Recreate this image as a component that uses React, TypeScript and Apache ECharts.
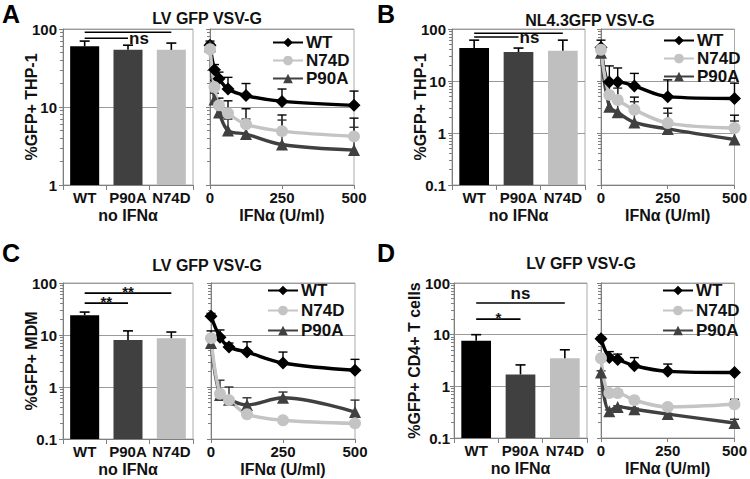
import React, { useEffect, useRef } from 'react';
import * as echarts from 'echarts';

const FONT = '"Liberation Sans", Arial, Helvetica, sans-serif';

// ---------- data ----------
const barCategories = ['WT', 'P90A', 'N74D'];
const legendNames = ['WT', 'N74D', 'P90A'];
const titles = ['LV GFP VSV-G', 'NL4.3GFP VSV-G', 'LV GFP VSV-G', 'LV GFP VSV-G'];
const letters = ['A', 'B', 'C', 'D'];
const yNames = ['%GFP+ THP-1', '%GFP+ THP-1', '%GFP+ MDM', '%GFP+ CD4+ T cells'];
const yMins = [1, 0.1, 0.1, 0.1];
const xTicks = [0, 250, 500];

const doseA = [0, 15.6, 31.25, 62.5, 125, 250, 500];
const doseBCD = [0, 31.25, 62.5, 125, 250, 500];

// Panel A
const barA = [60, 54, 54];
const barErrA = [70, 62, 66];
const wtA = [62, 30, 23, 17, 14, 11.8, 10.5];
const wtErrA = [70, 35, 28, 24, 20, 17, 16];
const n74dA = [55, 18, 10.5, 8.3, 6, 4.9, 4.2];
const n74dErrA = [62, 22, 13, 12, 9.5, 7.9, 7.2];
const p90aA = [60, 12.5, 8.5, 5.0, 4.5, 3.3, 2.8];
const p90aErrA = [66, 15, 10, 7, 7, 6.8, 5.5];
const sigA: [number, number, number, string][] = [[0, 2, 91, ''], [0, 1, 76, 'ns']];

// Panel B
const barB = [43, 36, 38];
const barErrB = [61, 43, 61];
const wtB = [44, 9.6, 9.6, 8, 5, 4.6];
const wtErrB = [61, 19.5, 17.8, 14, 10.5, 9.1];
const n74dB = [40, 5.4, 4.3, 2.8, 1.55, 1.25];
const n74dErrB = [45, 9, 9.1, 4.9, 3.0, 2.2];
const p90aB = [35, 3.2, 2.5, 1.6, 1.2, 0.75];
const p90aErrB = [40, 6, 7.3, 4.0, 2.4, 1.7];
const sigB: [number, number, number, string][] = [[0, 2, 83, ''], [0, 1, 70, 'ns']];

// Panel C
const barC = [24, 8, 8.7];
const barErrC = [27.6, 12, 11.4];
const wtC = [23, 9.1, 5.9, 4.7, 2.9, 2.1];
const wtErrC = [26, 12.5, 7, 7.4, 4.7, 3.4];
const n74dC = [8.7, 0.74, 0.56, 0.3, 0.23, 0.2];
const n74dErrC = [12, 0.8, 0.6, 0.35, 0.25, 0.22];
const p90aC = [7, 0.7, 0.57, 0.45, 0.62, 0.33];
const p90aErrC = [8, 1.35, 1.0, 0.62, 0.8, 0.56];
const sigC: [number, number, number, string][] = [[0, 2, 64, '**'], [0, 1, 41, '**']];

// Panel D
const barD = [7.6, 1.7, 3.5];
const barErrD = [10, 2.6, 5.1];
const wtD = [8.3, 3.6, 3.3, 2.5, 1.95, 1.85];
const wtErrD = [9, 4.7, 4.2, 3.6, 2.7, 1.9];
const n74dD = [3.5, 0.74, 0.74, 0.54, 0.4, 0.45];
const n74dErrD = [3.8, 0.8, 0.85, 0.6, 0.42, 0.56];
const p90aD = [1.85, 0.33, 0.4, 0.36, 0.29, 0.195];
const p90aErrD = [2, 0.35, 0.42, 0.38, 0.3, 0.23];
const sigD: [number, number, number, string][] = [[0, 2, 41, 'ns'], [0, 1, 20, '*']];

const panelData = [
  { dose: doseA, bars: barA, barErr: barErrA, wt: wtA, wtErr: wtErrA, n74d: n74dA, n74dErr: n74dErrA, p90a: p90aA, p90aErr: p90aErrA, sig: sigA },
  { dose: doseBCD, bars: barB, barErr: barErrB, wt: wtB, wtErr: wtErrB, n74d: n74dB, n74dErr: n74dErrB, p90a: p90aB, p90aErr: p90aErrB, sig: sigB },
  { dose: doseBCD, bars: barC, barErr: barErrC, wt: wtC, wtErr: wtErrC, n74d: n74dC, n74dErr: n74dErrC, p90a: p90aC, p90aErr: p90aErrC, sig: sigC },
  { dose: doseBCD, bars: barD, barErr: barErrD, wt: wtD, wtErr: wtErrD, n74d: n74dD, n74dErr: n74dErrD, p90a: p90aD, p90aErr: p90aErrD, sig: sigD },
];

// ---------- layout / style ----------
const layouts = [
  { left: [63, 29, 130, 156], right: [210, 29, 144, 156], legend: [272, 34], legendGap: 1, title: [207, 18], letter: [2, 14], sigMode: 'side', nameGap: 24, labelMargin: 6 },
  { left: [452, 29, 133, 156], right: [601, 29, 143, 156], legend: [663, 32], legendGap: 1, title: [590, 20], letter: [377, 14], sigMode: 'side', nameGap: 24, labelMargin: 6 },
  { left: [63, 283, 130, 156], right: [211, 283, 144, 156], legend: [267, 282], legendGap: 3, title: [207, 265], letter: [2, 253], sigMode: 'above', nameGap: 24, labelMargin: 6 },
  { left: [454, 283, 133, 155], right: [601, 283, 142, 155], legend: [662, 282], legendGap: 3, title: [581, 263], letter: [377, 253], sigMode: 'above', nameGap: 32, labelMargin: 4 },
];

const barColors = ['#000000', '#404040', '#bfbfbf'];
const seriesStyle: Record<string, { color: string; symbol: string; size: number }> = {
  WT: { color: '#000000', symbol: 'diamond', size: 13 },
  N74D: { color: '#c4c4c4', symbol: 'circle', size: 12 },
  P90A: { color: '#404040', symbol: 'triangle', size: 12 },
};
const AXIS_COLOR = '#7f7f7f';
const GRID_LINE = '#9a9a9a';
const TEXT = '#111111';

function buildOption() {
  const grid: any[] = [];
  const xAxis: any[] = [];
  const yAxis: any[] = [];
  const series: any[] = [];
  const legend: any[] = [];
  const graphic: any[] = [];

  panelData.forEach((pd, p) => {
    const lay = layouts[p];
    const gl = 2 * p;
    const gr = 2 * p + 1;
    const yMin = yMins[p];

    grid.push({ left: lay.left[0], top: lay.left[1], width: lay.left[2], height: lay.left[3], show: true, borderColor: '#ababab', borderWidth: 1, containLabel: false });
    grid.push({ left: lay.right[0], top: lay.right[1], width: lay.right[2], height: lay.right[3], show: true, borderColor: '#ababab', borderWidth: 1, containLabel: false });

    const labelStyle = { fontFamily: FONT, fontSize: 15, fontWeight: 'bold', color: TEXT };
    const nameStyle = { fontFamily: FONT, fontSize: 16, fontWeight: 'bold', color: TEXT };

    xAxis.push({
      type: 'category', gridIndex: gl, data: barCategories,
      axisLine: { show: true, lineStyle: { color: AXIS_COLOR } },
      axisTick: { show: true, length: 5, lineStyle: { color: AXIS_COLOR } },
      axisLabel: { ...labelStyle, margin: 5, interval: 0 },
      name: 'no IFNα', nameLocation: 'middle', nameGap: 22, nameMoveOverlap: false, nameTextStyle: nameStyle,
      splitLine: { show: false },
    });
    xAxis.push({
      type: 'value', gridIndex: gr, min: xTicks[0], max: xTicks[xTicks.length - 1], interval: xTicks[1] - xTicks[0],
      axisLine: { show: true, onZero: false, lineStyle: { color: AXIS_COLOR } },
      axisTick: { show: true, length: 4, lineStyle: { color: AXIS_COLOR } },
      axisLabel: { ...labelStyle, margin: 5 },
      name: 'IFNα (U/ml)', nameLocation: 'middle', nameGap: 22, nameMoveOverlap: false, nameTextStyle: nameStyle,
      splitLine: { show: false },
    });

    const yBase = {
      type: 'log', logBase: 10, min: yMin, max: 100,
      axisLine: { show: true, lineStyle: { color: AXIS_COLOR } },
      axisTick: { show: true, length: 4, lineStyle: { color: AXIS_COLOR } },
      minorTick: { show: true, splitNumber: 9, length: 3, lineStyle: { color: AXIS_COLOR } },
      splitLine: { show: true, lineStyle: { color: GRID_LINE, width: 1 } },
    };
    yAxis.push({
      ...yBase, gridIndex: gl,
      axisLabel: { ...labelStyle, margin: lay.labelMargin },
      name: yNames[p], nameLocation: 'middle', nameGap: lay.nameGap, nameRotate: 90, nameMoveOverlap: false, nameTextStyle: nameStyle,
    });
    yAxis.push({ ...yBase, gridIndex: gr, axisLabel: { show: false } });

    // bars (drawn from axis minimum)
    series.push({
      type: 'custom', name: 'bars' + p, xAxisIndex: gl, yAxisIndex: gl, z: 3,
      data: pd.bars.map((v, i) => [i, v]),
      renderItem: (params: any, api: any) => {
        const i = api.value(0);
        const v = api.value(1);
        const top = api.coord([i, v]);
        const base = api.coord([i, yMin]);
        const band = api.coord([1, v])[0] - api.coord([0, v])[0];
        const bw = band * 0.67;
        return { type: 'rect', shape: { x: top[0] - bw / 2, y: top[1], width: bw, height: base[1] - top[1] }, style: { fill: barColors[i] } };
      },
    });
    // bar error bars
    series.push({
      type: 'custom', name: 'barErr' + p, xAxisIndex: gl, yAxisIndex: gl, z: 4,
      data: pd.bars.map((v, i) => [i, v, pd.barErr[i]]),
      renderItem: (params: any, api: any) => {
        const a = api.coord([api.value(0), api.value(1)]);
        const b = api.coord([api.value(0), api.value(2)]);
        const cw = 5;
        const st = { stroke: '#000', lineWidth: 1.6 };
        return { type: 'group', children: [
          { type: 'line', shape: { x1: a[0], y1: a[1], x2: b[0], y2: b[1] }, style: st },
          { type: 'line', shape: { x1: b[0] - cw, y1: b[1], x2: b[0] + cw, y2: b[1] }, style: st },
        ] };
      },
    });
    // significance brackets
    const mode = lay.sigMode;
    series.push({
      type: 'custom', name: 'sig' + p, xAxisIndex: gl, yAxisIndex: gl, z: 5,
      data: pd.sig.map((s) => [s[0], s[1], s[2]]),
      renderItem: (params: any, api: any) => {
        const a = api.coord([api.value(0), api.value(2)]);
        const b = api.coord([api.value(1), api.value(2)]);
        const label = pd.sig[params.dataIndex][3];
        const children: any[] = [
          { type: 'line', shape: { x1: a[0], y1: a[1], x2: b[0], y2: b[1] }, style: { stroke: '#000', lineWidth: 1.6 } },
        ];
        if (label) {
          if (mode === 'side') {
            children.push({ type: 'text', style: { text: label, x: b[0] + 1, y: b[1], align: 'left', verticalAlign: 'middle', fontFamily: FONT, fontSize: 17, fontWeight: 'bold', fill: TEXT } });
          } else {
            const isStar = label.indexOf('*') >= 0;
            children.push({ type: 'text', style: { text: label, x: (a[0] + b[0]) / 2, y: b[1] + (isStar ? 6 : -1), align: 'center', verticalAlign: 'bottom', fontFamily: FONT, fontSize: isStar ? 15 : 17, fontWeight: 'bold', fill: TEXT } });
          }
        }
        return { type: 'group', children };
      },
    });

    // line error bars
    const groups = [
      { name: 'WT', vals: pd.wt, err: pd.wtErr },
      { name: 'N74D', vals: pd.n74d, err: pd.n74dErr },
      { name: 'P90A', vals: pd.p90a, err: pd.p90aErr },
    ];
    const errData: any[] = [];
    groups.forEach((g, gi) => g.vals.forEach((v, i) => errData.push([pd.dose[i], v, g.err[i], gi])));
    series.push({
      type: 'custom', name: 'lineErr' + p, xAxisIndex: gr, yAxisIndex: gr, z: 3,
      data: errData,
      renderItem: (params: any, api: any) => {
        const a = api.coord([api.value(0), api.value(1)]);
        const b = api.coord([api.value(0), api.value(2)]);
        const gi = api.value(3);
        const col = gi === 2 ? '#303030' : '#000';
        const cw = 4.5;
        const st = { stroke: col, lineWidth: 1.4 };
        return { type: 'group', children: [
          { type: 'line', shape: { x1: a[0], y1: a[1], x2: b[0], y2: b[1] }, style: st },
          { type: 'line', shape: { x1: b[0] - cw, y1: b[1], x2: b[0] + cw, y2: b[1] }, style: st },
        ] };
      },
    });

    // lines (draw order WT, P90A, N74D)
    [groups[0], groups[2], groups[1]].forEach((g) => {
      const s = seriesStyle[g.name];
      series.push({
        type: 'line', name: g.name, xAxisIndex: gr, yAxisIndex: gr, z: 4,
        data: g.vals.map((v, i) => [pd.dose[i], v]),
        smooth: 0.35,
        symbol: s.symbol, symbolSize: s.size, showSymbol: true,
        lineStyle: { color: s.color, width: 3.4 },
        itemStyle: { color: s.color },
        emphasis: { disabled: true },
      });
    });

    legend.push({
      data: legendNames, orient: 'vertical', left: lay.legend[0], top: lay.legend[1],
      itemWidth: 30, itemHeight: 12, itemGap: lay.legendGap, selectedMode: false,
      textStyle: { fontFamily: FONT, fontSize: 17, fontWeight: 'bold', color: TEXT, padding: [0, 0, 0, -2] },
      padding: 0,
    });

    graphic.push({ type: 'text', x: lay.title[0], y: lay.title[1], style: { text: titles[p], align: 'center', verticalAlign: 'middle', fontFamily: FONT, fontSize: 16, fontWeight: 'bold', fill: TEXT } });
    graphic.push({ type: 'text', x: lay.letter[0], y: lay.letter[1], style: { text: letters[p], align: 'left', verticalAlign: 'middle', fontFamily: FONT, fontSize: 25, fontWeight: 'bold', fill: '#000' } });
  });

  return { animation: false, backgroundColor: '#ffffff', grid, xAxis, yAxis, series, legend, graphic };
}

export default function App() {
  const ref = useRef<HTMLDivElement>(null);
  useEffect(() => {
    if (!ref.current) return;
    const chart = echarts.init(ref.current, undefined, { renderer: 'svg' });
    chart.setOption(buildOption() as any);
    return () => chart.dispose();
  }, []);
  return <div ref={ref} style={{ position: 'absolute', left: 0, top: 0, width: 750, height: 479 }} />;
}
